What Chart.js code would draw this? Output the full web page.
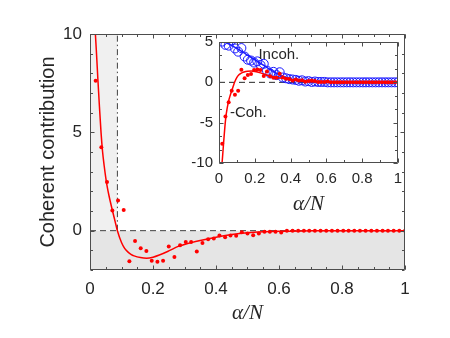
<!DOCTYPE html>
<html>
<head>
<meta charset="utf-8">
<script src="https://cdn.jsdelivr.net/npm/chart.js@4.4.0/dist/chart.umd.min.js"></script>
<style>
  html, body { margin: 0; padding: 0; background: #fff; }
  #wrap { position: relative; width: 450px; height: 338px; }
  #wrap canvas { position: absolute; left: 0; top: 0; }
</style>
</head>
<body>
<div id="wrap">
  <canvas id="mainChart" width="450" height="338"></canvas>
  <canvas id="insetChart" width="450" height="338"></canvas>
</div>
<script>
// sample positions alpha/N (k/56)
const sampleX = [0.018, 0.036, 0.054, 0.071, 0.089, 0.107, 0.125, 0.143, 0.161, 0.179,
  0.196, 0.214, 0.232, 0.250, 0.268, 0.286, 0.304, 0.321, 0.339, 0.357,
  0.375, 0.393, 0.411, 0.429, 0.446, 0.464, 0.482, 0.500, 0.518, 0.536,
  0.554, 0.571, 0.589, 0.607, 0.625, 0.643, 0.661, 0.679, 0.696, 0.714,
  0.732, 0.750, 0.768, 0.786, 0.804, 0.821, 0.839, 0.857, 0.875, 0.893,
  0.911, 0.929, 0.946, 0.964, 0.982, 1.000];

// coherent contribution (dots)
const cohDots = [7.62, 4.24, 2.48, 1.03, 1.54, 1.05, -1.55, -0.52, -0.90, -1.03,
  -1.53, -1.58, -1.53, -0.80, -1.34, -0.74, -0.57, -0.57, -1.06, -0.63,
  -0.44, -0.40, -0.24, -0.34, -0.24, -0.26, -0.08, -0.15, -0.23, -0.15,
  -0.05, -0.05, -0.05, -0.09, -0.01, 0, 0, 0, 0, 0,
  0, 0, 0, 0, 0, 0, 0, 0, 0, 0,
  0, 0, 0, 0, 0, 0];

// incoherent contribution (circles, inset)
const incohDots = [5.05, 4.65, 4.55, 5.2, 4.2, 3.8, 4.25, 3.2, 2.8, 2.7,
  2.45, 2.6, 2.15, 2.3, 1.45, 1.1, 1.3, 0.9, 1.25, 0.6,
  0.5, 0.4, 0.35, 0.3, 0.2, 0.25, 0.1, 0.15, 0.05, 0.1,
  0.05, 0.05, 0.05, 0, 0, 0, 0, 0, 0, 0,
  0, 0, 0, 0, 0, 0, 0, 0, 0, 0,
  0, 0, 0, 0, 0, 0];

// fitted curves
const cohCurveX = [0.016, 0.02, 0.025, 0.03, 0.035, 0.04, 0.045, 0.05, 0.055, 0.06,
  0.07, 0.08, 0.087, 0.1, 0.11, 0.12, 0.13, 0.14, 0.16, 0.18, 0.2, 0.22,
  0.25, 0.28, 0.3, 0.35, 0.4, 0.45, 0.5, 0.55, 0.6, 0.7, 0.8, 0.9, 1.0];
const cohCurveY = [10.3, 9.2, 7.7, 6.3, 5.0, 4.0, 3.3, 2.7, 2.2, 1.8,
  1.1, 0.45, 0.0, -0.6, -0.9, -1.08, -1.2, -1.28, -1.37, -1.40, -1.35, -1.24,
  -1.03, -0.80, -0.70, -0.50, -0.33, -0.20, -0.11, -0.06, -0.03, -0.01, 0, 0, 0];

const incohCurveX = [0, 0.05, 0.1, 0.15, 0.2, 0.25, 0.3, 0.35, 0.4, 0.45, 0.5, 0.6, 0.7, 1.0];
const incohCurveY = [5.3, 4.8, 4.2, 3.5, 2.8, 2.1, 1.4, 0.8, 0.4, 0.2, 0.1, 0.03, 0, 0];

const cutX = 0.087;

const mainXTicks = [0, 0.2, 0.4, 0.6, 0.8, 1];
const mainYTicks = [0, 5, 10];
const insetXTicks = [0, 0.2, 0.4, 0.6, 0.8, 1];
const insetYTicks = [-10, -5, 0, 5];

const RED = '#ff0000';
const BLUE = '#1a1aff';
const TEXT = '#262626';
const SANS = "'Liberation Sans', Arial, sans-serif";
const SERIF = "'Liberation Serif', 'Times New Roman', serif";

const pts = (xs, ys, sign = 1) => xs.map((x, i) => ({ x: x, y: sign * ys[i] }));

// MATLAB-like box with inward ticks
const boxTicks = {
  id: 'boxTicks',
  beforeDraw(chart, args, opts) {
    if (!opts.fill) return;
    const { ctx, chartArea: a } = chart;
    ctx.save();
    ctx.fillStyle = opts.fill;
    ctx.fillRect(a.left, a.top, a.right - a.left, a.bottom - a.top);
    ctx.restore();
  },
  afterDraw(chart, args, opts) {
    const { ctx, chartArea: a, scales } = chart;
    const x = scales.x, y = scales.y;
    ctx.save();
    ctx.strokeStyle = '#4d4d4d';
    ctx.lineWidth = 1;
    ctx.beginPath();
    const L = Math.round(a.left) + 0.5, R = Math.round(a.right) - 0.5;
    const T = Math.round(a.top) + 0.5, B = Math.round(a.bottom) - 0.5;
    const xt = (v, len) => {
      const p = Math.round(x.getPixelForValue(v)) + 0.5;
      ctx.moveTo(p, B); ctx.lineTo(p, B - len);
      ctx.moveTo(p, T); ctx.lineTo(p, T + len);
    };
    const yt = (v, len) => {
      const p = Math.round(y.getPixelForValue(v)) + 0.5;
      ctx.moveTo(L, p); ctx.lineTo(L + len, p);
      ctx.moveTo(R, p); ctx.lineTo(R - len, p);
    };
    for (let v = x.min; v <= x.max + 1e-9; v += opts.xMinor) xt(v, opts.minorLen);
    for (let v = y.min; v <= y.max + 1e-9; v += opts.yMinor) yt(v, opts.minorLen);
    opts.xMajor.forEach(v => xt(v, opts.majorLen));
    opts.yMajor.forEach(v => yt(v, opts.majorLen));
    ctx.rect(L, T, R - L, B - T);
    ctx.stroke();
    ctx.restore();
  }
};

// text labels placed in data coordinates
const dataLabels = {
  id: 'dataLabels',
  afterDatasetsDraw(chart, args, opts) {
    if (!opts.items) return;
    const { ctx, scales: { x, y } } = chart;
    ctx.save();
    ctx.fillStyle = TEXT;
    ctx.font = opts.font;
    ctx.textAlign = 'left';
    ctx.textBaseline = 'middle';
    opts.items.forEach(it => ctx.fillText(it.text, x.getPixelForValue(it.x), y.getPixelForValue(it.y)));
    ctx.restore();
  }
};

const lineDs = (data, color, width, dash, order) => ({
  data: data, showLine: true, borderColor: color, borderWidth: width, borderDash: dash || [],
  pointRadius: 0, fill: false, order: order
});

new Chart(document.getElementById('mainChart'), {
  type: 'scatter',
  data: {
    datasets: [
      { data: pts(sampleX, cohDots), pointRadius: 2, pointBackgroundColor: RED, pointBorderWidth: 0, order: 1 },
      Object.assign(lineDs(pts(cohCurveX, cohCurveY), RED, 1.5, null, 2), { cubicInterpolationMode: 'monotone' }),
      lineDs([{ x: cutX, y: 0 }, { x: cutX, y: 10 }], '#404040', 1, [6, 3, 1.5, 3], 3),
      lineDs([{ x: 0, y: 0 }, { x: 1, y: 0 }], '#404040', 1, [6, 4], 3),
      { data: [{ x: 0, y: 10 }, { x: cutX, y: 10 }], showLine: true, borderWidth: 0, pointRadius: 0,
        fill: 'origin', backgroundColor: '#f0f0f0', order: 9 },
      { data: [{ x: 0, y: 0 }, { x: 1, y: 0 }], showLine: true, borderWidth: 0, pointRadius: 0,
        fill: 'start', backgroundColor: '#e5e5e5', order: 10 }
    ]
  },
  options: {
    responsive: false,
    animation: false,
    events: [],
    layout: { padding: { left: 0, top: 34, right: 45, bottom: 12 } },
    plugins: {
      legend: { display: false },
      tooltip: { enabled: false },
      boxTicks: { xMajor: mainXTicks, yMajor: mainYTicks, xMinor: 0.05, yMinor: 1, majorLen: 4, minorLen: 2.5 }
    },
    scales: {
      x: {
        type: 'linear', min: 0, max: 1,
        grid: { display: false, drawTicks: false }, border: { display: false },
        afterBuildTicks: s => { s.ticks = mainXTicks.map(v => ({ value: v })); },
        afterFit: s => { s.height = 56; },
        ticks: { font: { family: SANS, size: 17 }, color: TEXT, padding: 9, maxRotation: 0, callback: v => String(v) },
        title: { display: true, text: 'α/N', font: { family: SERIF, style: 'italic', size: 21 }, color: TEXT, padding: 0 }
      },
      y: {
        type: 'linear', min: -2, max: 10,
        grid: { display: false, drawTicks: false }, border: { display: false },
        afterBuildTicks: s => { s.ticks = mainYTicks.map(v => ({ value: v })); },
        afterFit: s => { s.width = 90; },
        ticks: { font: { family: SANS, size: 17 }, color: TEXT, padding: 8, callback: v => String(v) },
        title: { display: true, text: 'Coherent contribution', font: { family: SANS, size: 20 }, color: TEXT, padding: { top: 36, bottom: 0 } }
      }
    }
  },
  plugins: [boxTicks]
});

new Chart(document.getElementById('insetChart'), {
  type: 'scatter',
  data: {
    datasets: [
      { data: pts(sampleX, cohDots, -1), pointRadius: 2, pointBackgroundColor: RED, pointBorderWidth: 0, order: 1 },
      Object.assign(lineDs(pts(cohCurveX, cohCurveY, -1), RED, 1.5, null, 2), { cubicInterpolationMode: 'monotone' }),
      { data: pts(sampleX, incohDots), pointRadius: 4.5, pointBackgroundColor: 'rgba(0,0,0,0)',
        pointBorderColor: BLUE, pointBorderWidth: 1, order: 3 },
      Object.assign(lineDs(pts(incohCurveX, incohCurveY), BLUE, 1.5, null, 4), { cubicInterpolationMode: 'monotone' }),
      lineDs([{ x: 0, y: 0 }, { x: 1, y: 0 }], '#262626', 1, [6, 4], 5)
    ]
  },
  options: {
    responsive: false,
    animation: false,
    events: [],
    layout: { padding: { left: 0, top: 42, right: 52, bottom: 121 } },
    plugins: {
      legend: { display: false },
      tooltip: { enabled: false },
      boxTicks: { fill: '#ffffff', xMajor: insetXTicks, yMajor: insetYTicks, xMinor: 0.1, yMinor: 5 / 3, majorLen: 4, minorLen: 2.5 },
      dataLabels: { font: '15px ' + SANS, items: [{ text: 'Incoh.', x: 0.22, y: 3.4 }, { text: '-Coh.', x: 0.061, y: -3.75 }] }
    },
    scales: {
      x: {
        type: 'linear', min: 0, max: 1,
        grid: { display: false, drawTicks: false }, border: { display: false },
        afterBuildTicks: s => { s.ticks = insetXTicks.map(v => ({ value: v })); },
        afterFit: s => { s.height = 54; },
        ticks: { font: { family: SANS, size: 15 }, color: TEXT, padding: 7, maxRotation: 0, callback: v => String(v) },
        title: { display: true, text: 'α/N', font: { family: SERIF, style: 'italic', size: 21 }, color: TEXT, padding: 0 }
      },
      y: {
        type: 'linear', min: -10, max: 5,
        grid: { display: false, drawTicks: false }, border: { display: false },
        afterBuildTicks: s => { s.ticks = insetYTicks.map(v => ({ value: v })); },
        afterFit: s => { s.width = 219; },
        ticks: { font: { family: SANS, size: 15 }, color: TEXT, padding: 6, callback: v => String(v) }
      }
    }
  },
  plugins: [boxTicks, dataLabels]
});
</script>
</body>
</html>
